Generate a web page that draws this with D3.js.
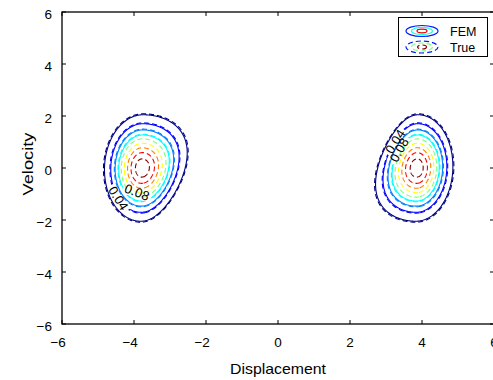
<!DOCTYPE html>
<html><head><meta charset="utf-8">
<script src="https://cdn.jsdelivr.net/npm/d3@7"></script>
<style>
body{margin:0;background:#fff}
svg text{font-family:"Liberation Sans",Arial,Helvetica,sans-serif;fill:#000}
</style>
</head><body>
<svg id="chart" width="493" height="380"></svg>
<script>
// ---------------- data ----------------
const xTickValues = [-6, -4, -2, 0, 2, 4, 6];
const yTickValues = [-6, -4, -2, 0, 2, 4, 6];
const xTickLabels = ["−6", "−4", "−2", "0", "2", "4", "6"];
const yTickLabels = ["−6", "−4", "−2", "0", "2", "4", "6"];
const femLevels  = [0.02, 0.04, 0.06, 0.08];
const trueLevels = [0.02, 0.04, 0.06, 0.08, 0.10, 0.12, 0.14, 0.16, 0.18];
// the two density modes (left well, right well)
const modeCenter     = [-3.78, 3.86];
const femPeak        = [0.19, 0.19];
const truePeak       = [0.192, 0.192];
const femSigmaV      = [0.965, 0.965];
const trueSigmaV     = [0.98, 0.98];
const femSigmaInner  = [0.566, 0.514];
const trueSigmaInner = [0.576, 0.524];
const femSigmaOuter  = [0.49, 0.47];
const trueSigmaOuter = [0.502, 0.482];
const innerSkew      = [0.14, 0.15];
const modeShear      = [0.015, 0.015];
// contour labels: level, mode, direction from mode centre (deg)
const labelLevels    = [0.04, 0.08, 0.04, 0.08];
const labelMode      = [0, 0, 1, 1];
const labelDirection = [128, 102, -130, -135];
const legendNames    = ["FEM", "True"];
const xTitle = "Displacement", yTitle = "Velocity";

// ---------------- layout / style ----------------
const W = 493, H = 380;
const plot = {left: 62, right: 494, top: 12, bottom: 324};
const labelInset = [0, 8, 0, 0]; // px pulled toward the mode centre
const levelMin = 0.02, levelMax = 0.18;
function jet(t) {
  const c = v => Math.max(0, Math.min(1, v));
  const r = c(1.5 - Math.abs(4 * t - 3)), g = c(1.5 - Math.abs(4 * t - 2)), b = c(1.5 - Math.abs(4 * t - 1));
  return d3.rgb(r * 255, g * 255, b * 255).formatHex();
}
const levelColor = L => jet((L - levelMin) / (levelMax - levelMin));

const svg = d3.select("#chart");
const x = d3.scaleLinear().domain([-6, 6]).range([plot.left, plot.right]);
const y = d3.scaleLinear().domain([-6, 6]).range([plot.bottom, plot.top]);

// ---------------- density fields ----------------
const step = 0.02, n = Math.round(12 / step) + 1;
function field(peak, sv, sIn, sOut) {
  const vals = new Float64Array(n * n);
  for (let j = 0; j < n; j++) {
    const v = 6 - j * step;
    for (let i = 0; i < n; i++) {
      const xv = -6 + i * step;
      let p = 0;
      for (let m = 0; m < modeCenter.length; m++) {
        const c = modeCenter[m], sg = Math.sign(c);
        const dx = (xv - c) - modeShear[m] * v;
        const s = (dx * sg < 0) ? sIn[m] * Math.exp(-sg * innerSkew[m] * v) : sOut[m];
        const q = (dx / s) ** 2 + (v / sv[m]) ** 2;
        if (q < 60) p += peak[m] * Math.exp(-0.5 * q);
      }
      vals[j * n + i] = p;
    }
  }
  return vals;
}
const femVals  = field(femPeak, femSigmaV, femSigmaInner, femSigmaOuter);
const trueVals = field(truePeak, trueSigmaV, trueSigmaInner, trueSigmaOuter);
const femContours  = d3.contours().size([n, n]).thresholds(femLevels)(femVals);
const trueContours = d3.contours().size([n, n]).thresholds(trueLevels)(trueVals);

const gx = X => x(-6 + (X - 0.5) * step);
const gy = Y => y(6 - (Y - 0.5) * step);
const proj = d3.geoTransform({point: function(X, Y) { this.stream.point(gx(X), gy(Y)); }});
const path = d3.geoPath(proj);

// ---------------- label placement ----------------
const labels = labelLevels.map((L, k) => {
  const m = labelMode[k];
  const cont = femContours.find(c => Math.abs(c.value - L) < 1e-9);
  const cx = x(modeCenter[m]), cy = y(0);
  const target = labelDirection[k] * Math.PI / 180;
  let best = null;
  cont.coordinates.forEach(poly => poly.forEach(ring => {
    const pts = ring.map(p => [gx(p[0]), gy(p[1])]);
    pts.forEach((p, idx) => {
      const others = modeCenter.map(c => Math.abs(p[0] - x(c)));
      if (others.indexOf(Math.min(...others)) !== m) return;
      const a = Math.atan2(p[1] - cy, p[0] - cx);
      let diff = Math.abs(a - target); if (diff > Math.PI) diff = 2 * Math.PI - diff;
      if (!best || diff < best.diff) best = {diff, pts, idx};
    });
  }));
  const P = best.pts, N = P.length;
  const p0 = P[(best.idx - 3 + N) % N], p1 = P[(best.idx + 3) % N];
  let ang = Math.atan2(p1[1] - p0[1], p1[0] - p0[0]) * 180 / Math.PI;
  if (ang > 90) ang -= 180; if (ang <= -90) ang += 180;
  const px = P[best.idx][0], py = P[best.idx][1];
  const dd = Math.hypot(px - cx, py - cy);
  return {x: px - (px - cx) / dd * labelInset[k], y: py - (py - cy) / dd * labelInset[k],
          angle: ang, text: L.toFixed(2)};
});

const defs = svg.append("defs");
defs.append("clipPath").attr("id", "plotClip").append("rect")
  .attr("x", plot.left).attr("y", plot.top)
  .attr("width", plot.right - plot.left).attr("height", plot.bottom - plot.top);
const mask = defs.append("mask").attr("id", "labelMask")
  .attr("maskUnits", "userSpaceOnUse").attr("x", 0).attr("y", 0).attr("width", W).attr("height", H);
mask.append("rect").attr("width", W).attr("height", H).attr("fill", "#fff");
mask.selectAll("rect.hole").data(labels).join("rect").attr("class", "hole")
  .attr("x", -15).attr("y", -6).attr("width", 30).attr("height", 12).attr("fill", "#000")
  .attr("transform", d => `translate(${d.x},${d.y}) rotate(${d.angle})`);

const isLabelled = v => labelLevels.some(L => Math.abs(L - v) < 1e-9);

// ---------------- contours ----------------
const gC = svg.append("g").attr("clip-path", "url(#plotClip)");
gC.append("g").selectAll("path").data(femContours).join("path")
  .attr("d", path).attr("fill", "none")
  .attr("stroke", d => levelColor(d.value)).attr("stroke-width", 1.1)
  .attr("mask", d => isLabelled(d.value) ? "url(#labelMask)" : null);
gC.append("g").selectAll("path").data(trueContours).join("path")
  .attr("d", path).attr("fill", "none")
  .attr("stroke", d => levelColor(d.value)).attr("stroke-width", 1.1)
  .attr("stroke-dasharray", "5,3")
  .attr("mask", d => isLabelled(d.value) ? "url(#labelMask)" : null);

svg.append("g").selectAll("text").data(labels).join("text")
  .attr("transform", d => `translate(${d.x},${d.y}) rotate(${d.angle})`)
  .attr("text-anchor", "middle").attr("dy", "0.36em")
  .style("font-size", "13px").text(d => d.text);

// ---------------- axes ----------------
const tickLen = 4;
const axisG = svg.append("g");
axisG.append("rect").attr("x", plot.left).attr("y", plot.top)
  .attr("width", plot.right - plot.left).attr("height", plot.bottom - plot.top)
  .attr("fill", "none").attr("stroke", "#000").attr("stroke-width", 1.3);
xTickValues.forEach(t => {
  axisG.append("line").attr("x1", x(t)).attr("x2", x(t)).attr("y1", plot.bottom).attr("y2", plot.bottom - tickLen).attr("stroke", "#000");
  axisG.append("line").attr("x1", x(t)).attr("x2", x(t)).attr("y1", plot.top).attr("y2", plot.top + tickLen).attr("stroke", "#000");
});
yTickValues.forEach(t => {
  axisG.append("line").attr("y1", y(t)).attr("y2", y(t)).attr("x1", plot.left).attr("x2", plot.left + tickLen).attr("stroke", "#000");
  axisG.append("line").attr("y1", y(t)).attr("y2", y(t)).attr("x1", plot.right).attr("x2", plot.right - tickLen).attr("stroke", "#000");
});
axisG.selectAll("text.xt").data(xTickValues).join("text").attr("class", "xt")
  .attr("x", d => x(d) + 3.8).attr("y", plot.bottom + 22.5)
  .attr("text-anchor", "end").style("font-size", "13.5px")
  .text((d, i) => xTickLabels[i]);
axisG.selectAll("text.yt").data(yTickValues).join("text").attr("class", "yt")
  .attr("x", plot.left - 10).attr("y", d => y(d) + 6.5)
  .attr("text-anchor", "end").style("font-size", "13.5px")
  .text((d, i) => yTickLabels[i]);
svg.append("text").attr("x", (plot.left + plot.right) / 2).attr("y", 374.3)
  .attr("text-anchor", "middle").style("font-size", "15px")
  .attr("textLength", 96).attr("lengthAdjust", "spacingAndGlyphs").text(xTitle);
svg.append("text").attr("transform", `translate(32.5,164) rotate(-90)`)
  .attr("text-anchor", "middle").style("font-size", "15px")
  .attr("textLength", 63).attr("lengthAdjust", "spacingAndGlyphs").text(yTitle);

// ---------------- legend ----------------
const lg = svg.append("g");
lg.append("rect").attr("x", 398.5).attr("y", 17.5).attr("width", 89).attr("height", 39)
  .attr("fill", "#fff").attr("stroke", "#000").attr("stroke-width", 1);
const iconRings = [{r: 16, ry: 5.5, t: 0.15}, {r: 10.5, ry: 3.6, t: 0.4}, {r: 5, ry: 1.8, t: 0.9}];
const iconRingsTrue = [{r: 16, ry: 6, t: 0.15}, {r: 10.5, ry: 4, t: 0.5}, {r: 4.5, ry: 2, t: 1.0}];
legendNames.forEach((name, i) => {
  const cy = 31 + i * 16, cx = 422;
  const rings = i === 0 ? iconRings : iconRingsTrue;
  rings.forEach(r => {
    lg.append("ellipse").attr("cx", cx).attr("cy", cy).attr("rx", r.r).attr("ry", r.ry)
      .attr("fill", "none").attr("stroke", jet(r.t)).attr("stroke-width", 1.2)
      .attr("stroke-dasharray", i === 0 ? null : "5,3");
  });
  lg.append("text").attr("x", 450).attr("y", cy + 4.5).style("font-size", "12.5px").text(name);
});
</script>
</body></html>
